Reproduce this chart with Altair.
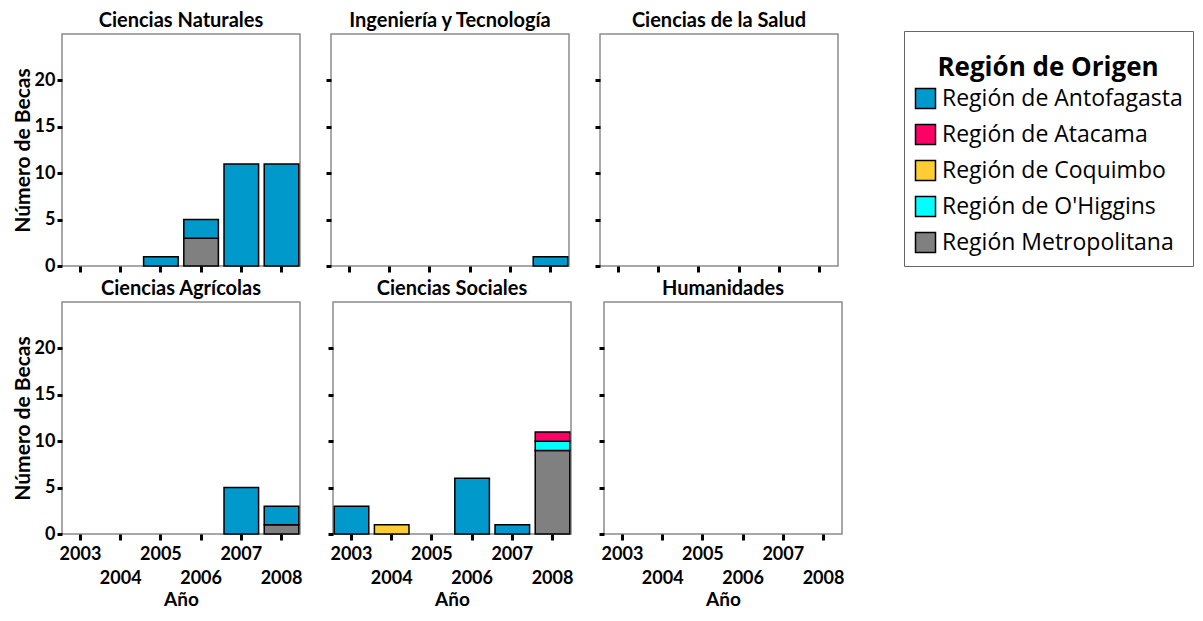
import altair as alt
import pandas as pd

years = ["2003", "2004", "2005", "2006", "2007", "2008"]
areas = ["Ciencias Naturales", "Ingeniería y Tecnología", "Ciencias de la Salud",
         "Ciencias Agrícolas", "Ciencias Sociales", "Humanidades"]
regions = ["Región de Antofagasta", "Región de Atacama", "Región de Coquimbo",
           "Región de O'Higgins", "Región Metropolitana"]
colors = ["#0099CC", "#FF0066", "#FFCC33", "#00FFFF", "#808080"]
stack_order = ["Región Metropolitana", "Región de O'Higgins", "Región de Coquimbo",
               "Región de Atacama", "Región de Antofagasta"]

rec_area = ["Ciencias Naturales", "Ciencias Naturales", "Ciencias Naturales", "Ciencias Naturales",
            "Ciencias Naturales", "Ingeniería y Tecnología", "Ciencias Agrícolas",
            "Ciencias Agrícolas", "Ciencias Agrícolas", "Ciencias Sociales", "Ciencias Sociales",
            "Ciencias Sociales", "Ciencias Sociales", "Ciencias Sociales", "Ciencias Sociales",
            "Ciencias Sociales"]
rec_year = ["2005", "2006", "2006", "2007", "2008", "2008", "2007", "2008", "2008",
            "2003", "2004", "2006", "2007", "2008", "2008", "2008"]
rec_region = ["Región de Antofagasta", "Región Metropolitana", "Región de Antofagasta",
              "Región de Antofagasta", "Región de Antofagasta", "Región de Antofagasta",
              "Región de Antofagasta", "Región Metropolitana", "Región de Antofagasta",
              "Región de Antofagasta", "Región de Coquimbo", "Región de Antofagasta",
              "Región de Antofagasta", "Región Metropolitana", "Región de O'Higgins",
              "Región de Atacama"]
rec_count = [1, 3, 2, 11, 11, 1, 5, 1, 2, 3, 1, 6, 1, 9, 1, 1]

df = pd.DataFrame({"area": rec_area, "year": rec_year, "region": rec_region, "count": rec_count})
df["orden"] = [stack_order.index(r) for r in df["region"]]

FONT = "Lato"
LFONT = "Open Sans"

legend = alt.Legend(
    orient="none", legendX=842, legendY=-3, title=["", "Región de Origen"],
    symbolType="square", symbolSize=400, symbolStrokeColor="black", symbolStrokeWidth=1.5,
    symbolOpacity=1, labelFontSize=23, labelFont=LFONT, labelColor="black",
    titleFontSize=26, titleFont=LFONT, titleFontWeight="bold", titleColor="black",
    titleLineHeight=14, titleAnchor="middle", titlePadding=6, titleLimit=0,
    rowPadding=9, padding=10,
    strokeColor="#666666", fillColor="white", labelOffset=5, labelLimit=0,
)


def panel(i):
    area = areas[i]
    row, col = divmod(i, 3)
    xaxis_kw = dict(ticks=True, tickSize=6, tickWidth=3, tickColor="black", domain=False,
                    labelAngle=0, labelFont=FONT, labelFontSize=18, labelFontWeight="bold",
                    labelColor="black", titleFont=FONT, titleFontSize=19, titleFontWeight="bold",
                    titleColor="black", grid=False)
    if row == 1:
        xaxis = alt.Axis(title="Año", labels=True,
                         labelExpr="toNumber(datum.value) % 2 == 0 ? ['', datum.label] : datum.label",
                         labelLineHeight=24, labelPadding=5, titlePadding=3, **xaxis_kw)
    else:
        xaxis = alt.Axis(title=None, labels=False, **xaxis_kw)
    yaxis_kw = dict(values=[0, 5, 10, 15, 20], ticks=True, tickSize=5, tickWidth=3,
                    tickColor="black", domain=False, grid=False, labelFont=FONT, labelFontSize=18,
                    labelFontWeight="bold", labelColor="black", titleFont=FONT, titleFontSize=21,
                    titleFontWeight="bold", titleColor="black")
    if col == 0:
        yaxis = alt.Axis(title="Número de Becas", labels=True, labelPadding=2, titlePadding=1, **yaxis_kw)
    else:
        yaxis = alt.Axis(title=None, labels=False, **yaxis_kw)

    return alt.Chart(df).transform_filter(
        alt.datum.area == area
    ).mark_bar(stroke="black", strokeWidth=1.5).encode(
        x=alt.X("year:N", scale=alt.Scale(domain=years, paddingInner=0.14, paddingOuter=0.03), axis=xaxis),
        y=alt.Y("sum(count):Q", stack="zero", scale=alt.Scale(domain=[0, 25], nice=False), axis=yaxis),
        color=alt.Color("region:N", scale=alt.Scale(domain=regions, range=colors), legend=legend),
        order=alt.Order("orden:Q", sort="ascending"),
    ).properties(
        width=238, height=232,
        title=alt.TitleParams(area, font=FONT, fontSize=20, fontWeight="bold", color="black", offset=3),
    )


top = alt.hconcat(panel(0), panel(1), panel(2), spacing=22)
bottom = alt.hconcat(panel(3), panel(4), panel(5), spacing=22)

chart = alt.vconcat(top, bottom, spacing=2).configure_view(
    stroke="#8c8c8c", strokeWidth=1.5
).properties(
    padding={"left": 3, "top": 2, "right": 0, "bottom": 0}
)

chart.save("out.html", embed_options={"renderer": "svg", "actions": False})
